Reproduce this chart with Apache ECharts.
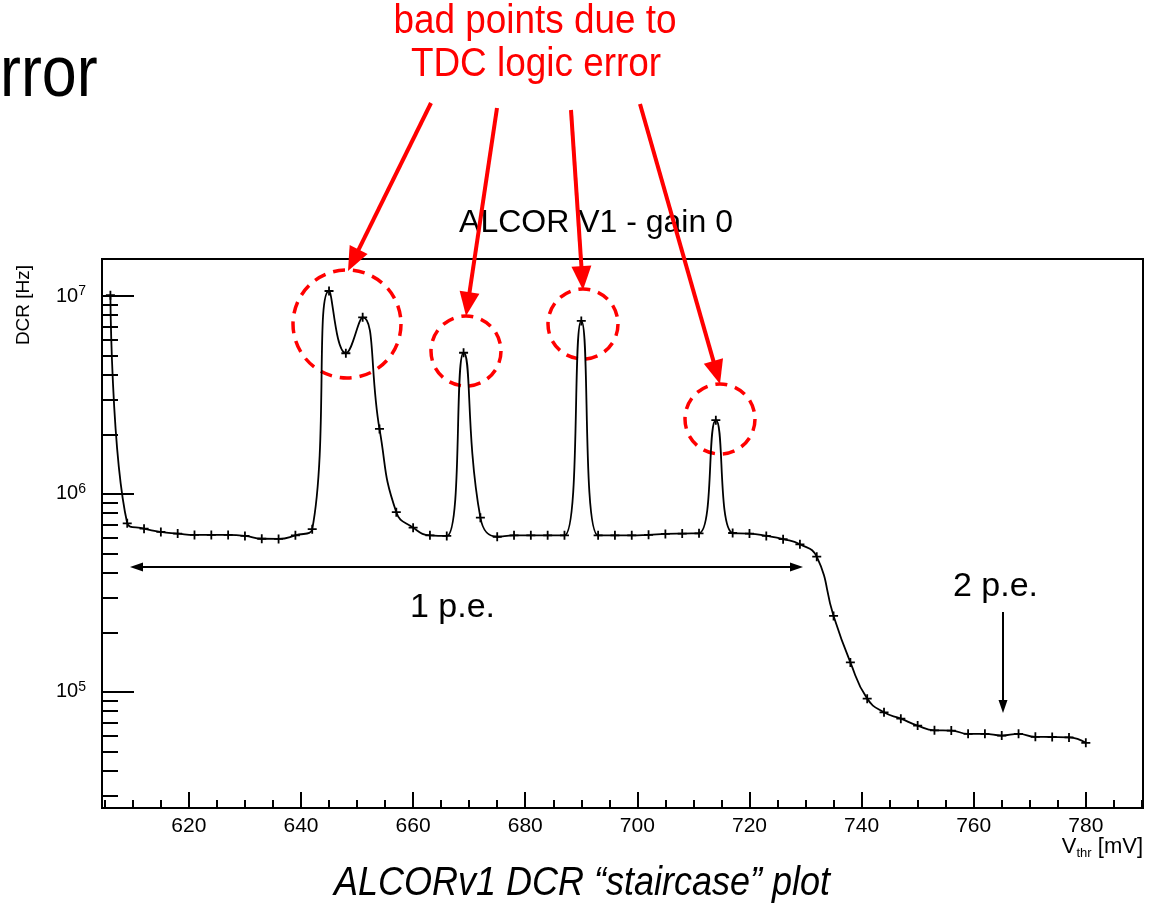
<!DOCTYPE html>
<html>
<head>
<meta charset="utf-8">
<script src="https://cdn.jsdelivr.net/npm/echarts@6/dist/echarts.min.js"></script>
<style>
html,body{margin:0;padding:0;background:#fff;}
#c{width:1151px;height:904px;}
</style>
</head>
<body>
<div id="c"></div>
<script>
// ---- data ----
const vthr = [606,609,612,615,618,621,624,627,630,633,636,639,642,645,648,651,654,657,660,663,666,669,672,675,678,681,684,687,690,693,696,699,702,705,708,711,714,717,720,723,726,729,732,735,738,741,744,747,750,753,756,759,762,765,768,771,774,777,780];
const dcr = [1.01e7,7.11e5,6.68e5,6.43e5,6.31e5,6.21e5,6.21e5,6.21e5,6.14e5,5.94e5,5.93e5,6.18e5,6.64e5,
             1.06e7,5.14e6,7.8e6,2.13e6,8.09e5,
             6.76e5,6.18e5,6.14e5,5.17e6,7.59e5,6.08e5,6.18e5,6.18e5,6.18e5,6.18e5,
             7.48e6,6.18e5,6.18e5,6.18e5,6.22e5,6.28e5,6.31e5,6.33e5,
             2.36e6,6.35e5,6.31e5,6.14e5,5.91e5,5.57e5,4.82e5,2.42e5,1.41e5,9.25e4,
             7.89e4,7.33e4,6.76e4,6.40e4,6.38e4,6.14e4,6.14e4,6.02e4,6.14e4,5.93e4,5.92e4,5.89e4,5.53e4];
const xTickLabels = ['620','640','660','680','700','720','740','760','780'];
const chartTitle = 'ALCOR V1 - gain 0';
const yName = 'DCR [Hz]';
const noteLines = ['bad points due to', 'TDC logic error'];
const caption = 'ALCORv1 DCR \u201Cstaircase\u201D plot';

const FONT = '"Liberation Sans", Arial, Helvetica, sans-serif';
const chart = echarts.init(document.getElementById('c'), null, {renderer: 'canvas'});

function arrow(x1, y1, x2, y2, color, w, hl, hw) {
  const dx = x2 - x1, dy = y2 - y1, L = Math.hypot(dx, dy), ux = dx / L, uy = dy / L;
  const bx = x2 - ux * hl, by = y2 - uy * hl;
  return [
    {type: 'line', silent: true, shape: {x1: x1, y1: y1, x2: bx + ux * 2, y2: by + uy * 2}, style: {stroke: color, lineWidth: w}},
    {type: 'polygon', silent: true, shape: {points: [[x2, y2], [bx - uy * hw / 2, by + ux * hw / 2], [bx + uy * hw / 2, by - ux * hw / 2]]}, style: {fill: color}}
  ];
}
function circ(cx, cy, r) {
  return {type: 'circle', silent: true, shape: {cx: cx, cy: cy, r: r},
          style: {fill: 'none', stroke: '#ff0000', lineWidth: 3.5, lineDash: [12, 8]}};
}

const graphics = [].concat(
  [
    {type: 'text', silent: true, x: 0, y: 76, scaleX: 0.86,
     style: {text: 'rror', font: '73px ' + FONT, fill: '#000', textAlign: 'left', verticalAlign: 'middle'}},
    {type: 'text', silent: true, x: 535, y: 22, scaleX: 0.9,
     style: {text: noteLines[0], font: '41px ' + FONT, fill: '#ff0000', textAlign: 'center', verticalAlign: 'middle'}},
    {type: 'text', silent: true, x: 536, y: 65, scaleX: 0.9,
     style: {text: noteLines[1], font: '41px ' + FONT, fill: '#ff0000', textAlign: 'center', verticalAlign: 'middle'}},
    {type: 'text', silent: true, x: 596, y: 223,
     style: {text: chartTitle, font: '32px ' + FONT, fill: '#000', textAlign: 'center', verticalAlign: 'middle'}},
    {type: 'text', silent: true, x: 24, y: 305, rotation: Math.PI / 2,
     style: {text: yName, font: '19px ' + FONT, fill: '#000', textAlign: 'center', verticalAlign: 'middle'}},
    {type: 'text', silent: true, x: 1143, y: 847,
     style: {text: '{v|V}{s|thr}{v| [mV]}', textAlign: 'right', verticalAlign: 'middle',
             rich: {v: {fontSize: 22, fontFamily: FONT, fill: '#000', lineHeight: 26},
                    s: {fontSize: 13, fontFamily: FONT, fill: '#000', lineHeight: 14, verticalAlign: 'bottom'}}}},
    {type: 'text', silent: true, x: 410, y: 608,
     style: {text: '1 p.e.', font: '34px ' + FONT, fill: '#000', textAlign: 'left', verticalAlign: 'middle'}},
    {type: 'text', silent: true, x: 953, y: 587,
     style: {text: '2 p.e.', font: '34px ' + FONT, fill: '#000', textAlign: 'left', verticalAlign: 'middle'}},
    {type: 'text', silent: true, x: 582, y: 884, scaleX: 0.9,
     style: {text: caption, font: 'italic 40px ' + FONT, fill: '#000', textAlign: 'center', verticalAlign: 'middle'}},
    circ(347, 324, 54), circ(466, 351, 35), circ(583, 324, 35), circ(720, 419, 35)
  ],
  arrow(431, 103, 348, 271, '#ff0000', 4, 24, 20),
  arrow(497, 108, 466, 316, '#ff0000', 4, 24, 20),
  arrow(571, 110, 583, 290, '#ff0000', 4, 24, 20),
  arrow(640, 104, 720, 384, '#ff0000', 4, 24, 20),
  arrow(470, 567, 130, 567, '#000', 2, 13, 9),
  arrow(470, 567, 803, 567, '#000', 2, 13, 9),
  arrow(1003, 612, 1003, 713, '#000', 2, 13, 9)
);

function isPow10(v) {
  const e = Math.log10(v);
  return Math.abs(e - Math.round(e)) < 1e-6;
}

const option = {
  animation: false,
  backgroundColor: '#fff',
  grid: {left: 102, top: 259, width: 1041, height: 549, show: true, borderColor: '#000', borderWidth: 2, backgroundColor: 'transparent'},
  xAxis: {
    type: 'value', min: 604.5, max: 790.2, splitNumber: 9,
    axisLine: {show: true, lineStyle: {color: '#000', width: 2}},
    axisTick: {show: true, inside: true, length: 16, lineStyle: {color: '#000', width: 2}},
    minorTick: {show: true, splitNumber: 4, length: 8, lineStyle: {color: '#000', width: 2}},
    splitLine: {show: false},
    minorSplitLine: {show: false},
    axisLabel: {
      interval: 0, margin: 8, color: '#000', fontSize: 21, fontFamily: FONT,
      formatter: function (v) { const s = String(Math.round(v)); return (Math.abs(v - Math.round(v)) < 1e-6 && xTickLabels.indexOf(s) >= 0) ? s : ''; }
    }
  },
  yAxis: {
    type: 'log', logBase: 10, min: 25920, max: 15380000,
    axisLine: {show: true, lineStyle: {color: '#000', width: 2}},
    axisTick: {show: true, inside: true, length: 32, lineStyle: {color: '#000', width: 2}},
    minorTick: {show: true, splitNumber: 9, length: 16, lineStyle: {color: '#000', width: 2}},
    splitLine: {show: false},
    minorSplitLine: {show: false},
    axisLabel: {
      margin: 16, color: '#000',
      formatter: function (v) {
        if (!isPow10(v)) return '';
        return '{b|10}{s|' + Math.round(Math.log10(v)) + '}';
      },
      rich: {
        b: {fontSize: 20, fontFamily: FONT, color: '#000', lineHeight: 24},
        s: {fontSize: 14, fontFamily: FONT, color: '#000', lineHeight: 14, verticalAlign: 'top'}
      }
    }
  },
  series: [{
    type: 'line',
    data: vthr.map(function (x, i) { return [x, dcr[i]]; }),
    smooth: 0.5,
    symbol: 'path://M4,0h2v10h-2zM0,4h10v2h-10z',
    symbolSize: 9,
    showAllSymbol: true,
    itemStyle: {color: '#000'},
    lineStyle: {color: '#000', width: 1.8},
    z: 3
  }],
  graphic: {elements: graphics}
};
chart.setOption(option);
</script>
</body>
</html>
